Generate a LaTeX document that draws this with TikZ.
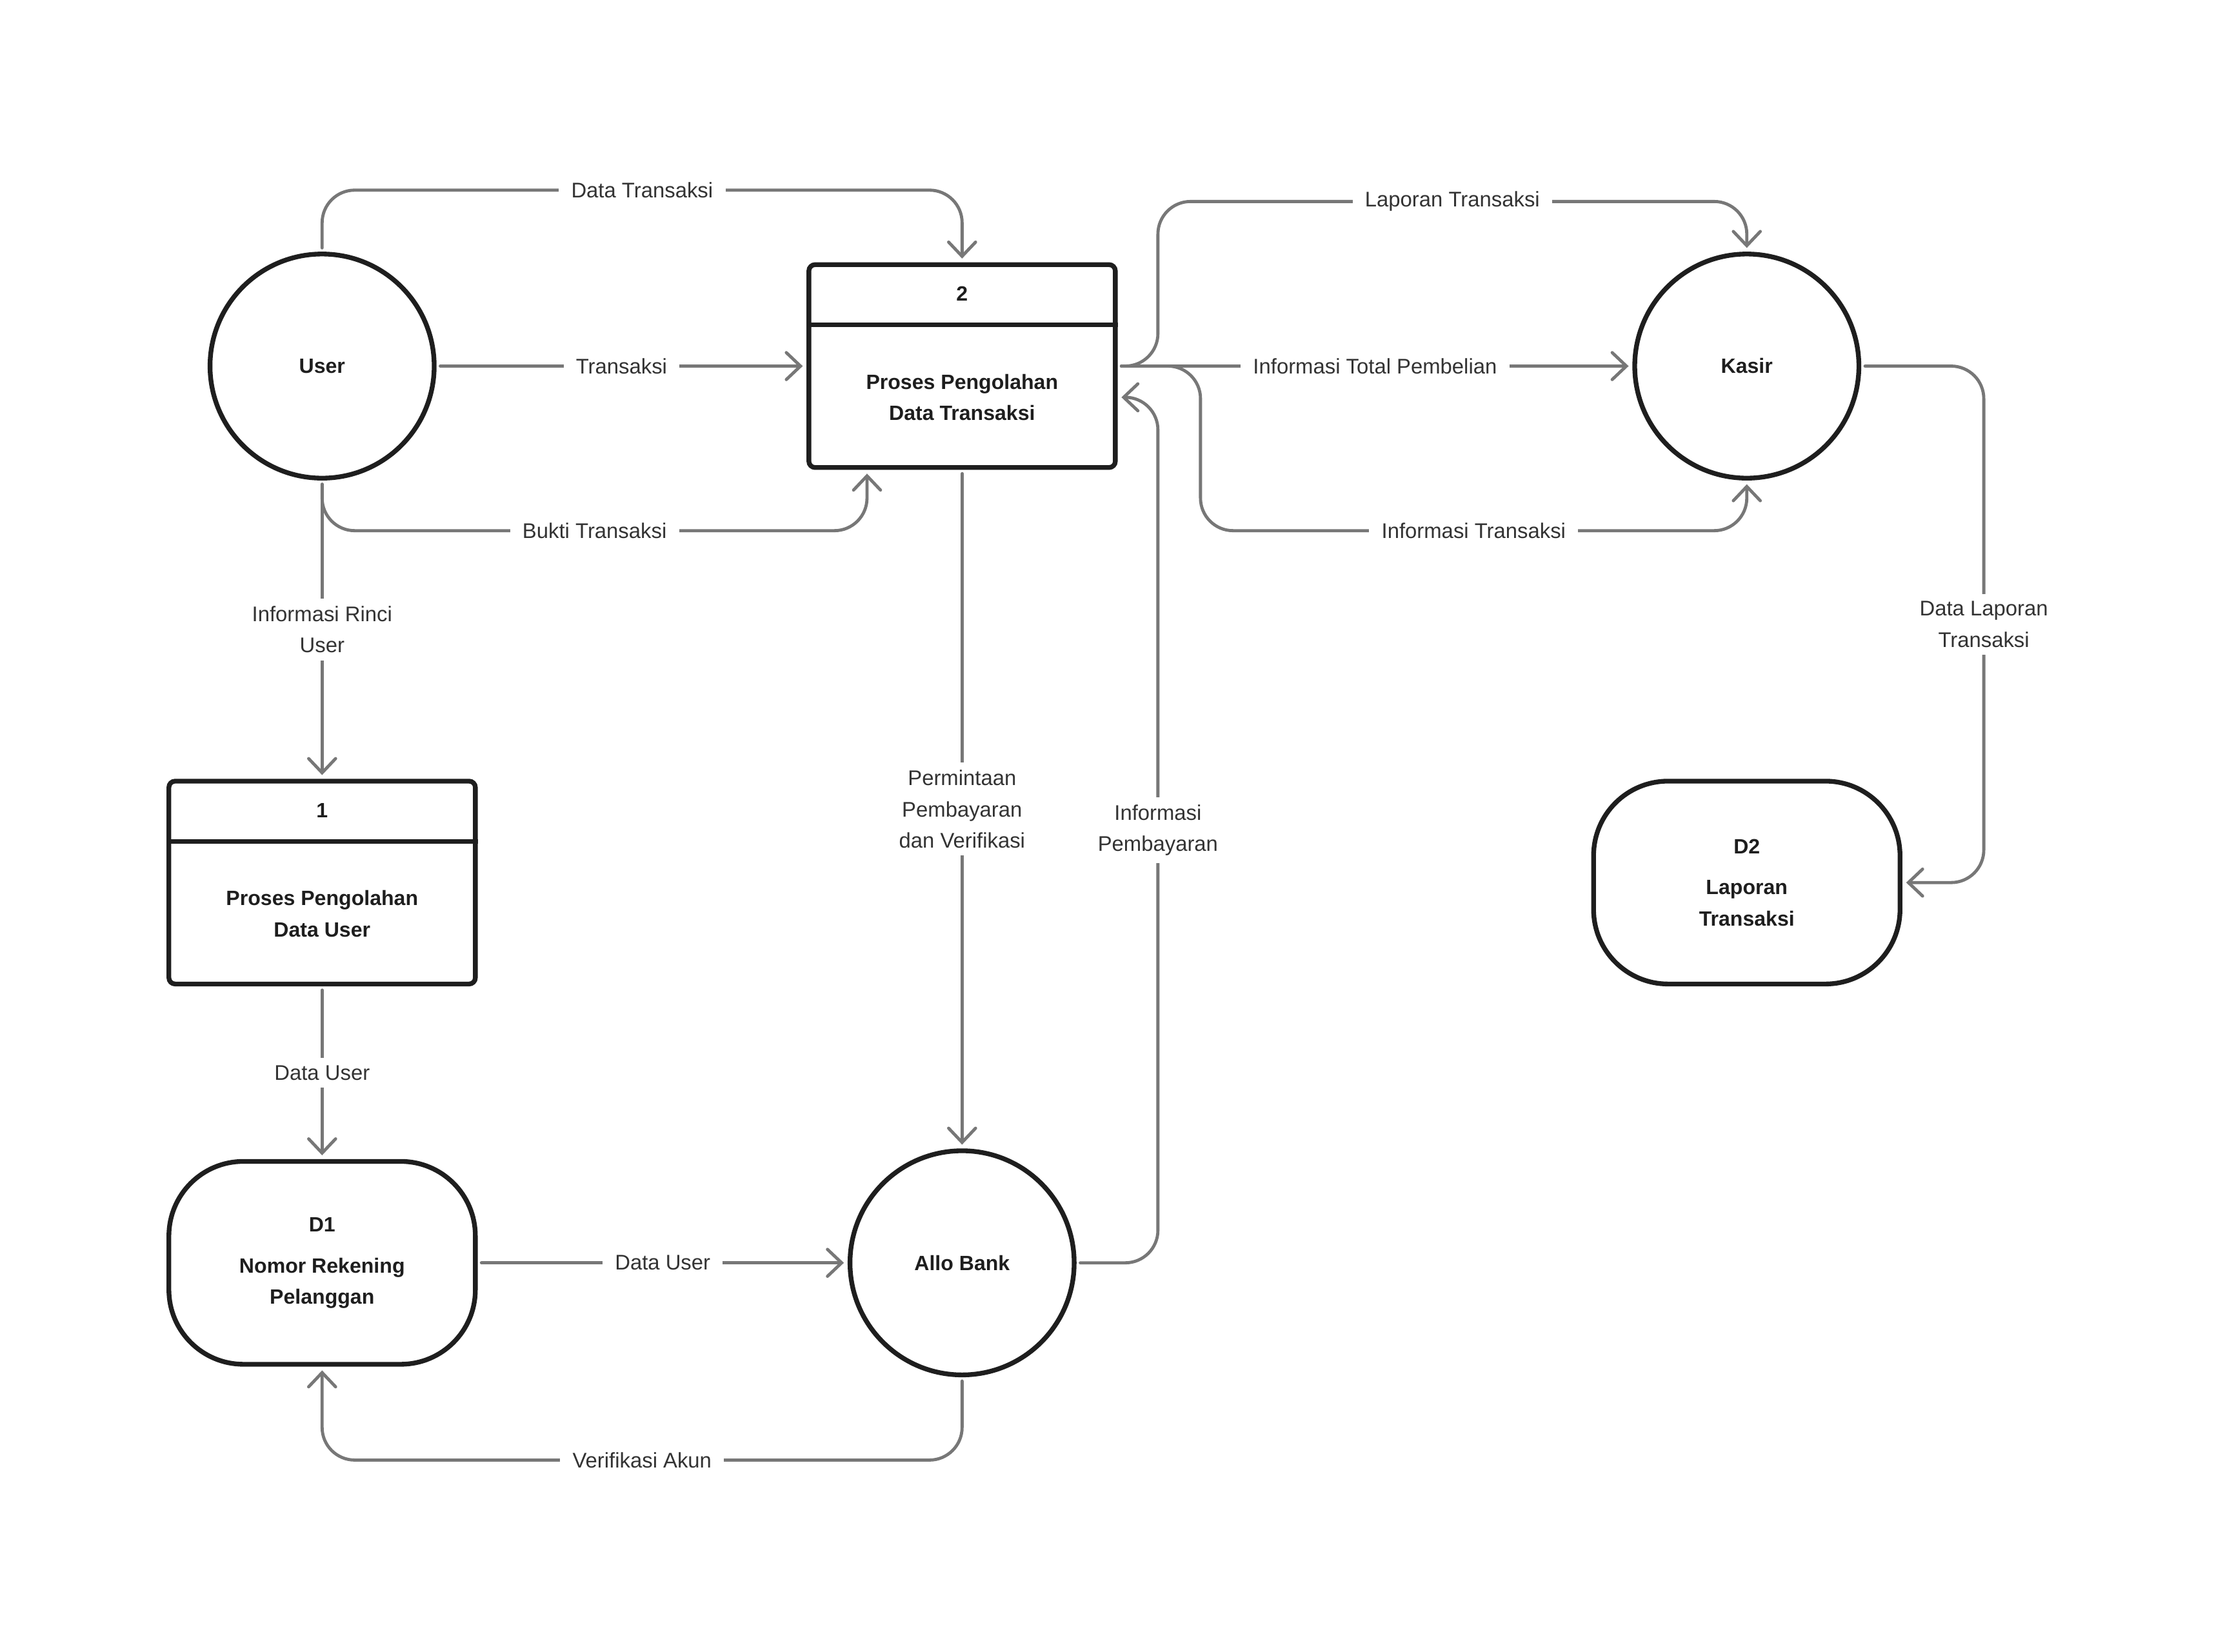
\documentclass[tikz,border=0pt]{standalone}
\usepackage{fontspec}
\setmainfont{Liberation Sans}
\usetikzlibrary{arrows.meta}
\definecolor{edgec}{HTML}{777777}
\definecolor{nodec}{HTML}{1E1E1E}
\definecolor{lblc}{HTML}{333333}
\begin{document}
\begin{tikzpicture}[x=0.02cm,y=-0.02cm,
  nfont/.style={font=\bfseries\fontsize{8.3}{12.5}\selectfont},
  ent/.style={circle,draw=nodec,line width=1.9pt,minimum size=3.16cm,inner sep=0pt,nfont,text=nodec,align=center},
  proc/.style={rectangle,draw=nodec,line width=1.9pt,rounded corners=2.5pt,minimum width=4.32cm,minimum height=2.86cm,inner sep=0pt},
  store/.style={rectangle,draw=nodec,line width=1.9pt,rounded corners=1.05cm,minimum width=4.32cm,minimum height=2.86cm,inner sep=0pt,align=center,nfont,text=nodec},
  ptxt/.style={nfont,text=nodec,align=center,inner sep=0pt},
  divider/.style={draw=nodec,line width=1.9pt},
  conn/.style={draw=edgec,line width=1.25pt,rounded corners=0.46cm,line cap=round,shorten <=1.5pt,shorten >=1.5pt,
    -{Straight Barb[length=0.2cm,width=0.38cm,line cap=round]}},
  lbl/.style={fill=white,text=lblc,font=\fontsize{8.5}{12.5}\selectfont,inner xsep=5pt,inner ysep=3pt,align=center,sharp corners}
]
\useasboundingbox (0,0) rectangle (1568,1164);
\fill[white] (0,0) rectangle (1568,1164);

% nodes
\node[ent] (user) at (227,258) {User};
\node[ent] (kasir) at (1231,258) {Kasir};
\node[ent] (bank) at (678,890) {Allo Bank};

\node[proc] (p2) at (678,258) {};
\draw[divider] (p2.west |- 0,229) -- (p2.east |- 0,229);
\node[ptxt] (p2h) at (678,207) {2};
\node[ptxt] (p2b) at (678,280) {Proses Pengolahan\\Data Transaksi};

\node[proc] (p1) at (227,622) {};
\draw[divider] (p1.west |- 0,593) -- (p1.east |- 0,593);
\node[ptxt] (p1h) at (227,571) {1};
\node[ptxt] (p1b) at (227,644) {Proses Pengolahan\\Data User};

\node[store] (d1) at (227,890) {D1\\[4pt]Nomor Rekening\\Pelanggan};
\node[store] (d2) at (1231,622) {D2\\[4pt]Laporan\\Transaksi};

% connectors
\draw[conn] (user.north) -- (user.north |- 0,134) -- node[lbl]{Data Transaksi} (p2.north |- 0,134) -- (p2.north);
\draw[conn] (user.east) -- node[lbl]{Transaksi} (p2.west);
\draw[conn] (user.south) -- (user.south |- 0,374) -- node[lbl]{Bukti Transaksi} (611,374) -- (p2.south -| 611,0);
\draw[conn] (user.south) -- node[lbl]{Informasi Rinci\\User} (p1.north);
\draw[conn] (p1.south) -- node[lbl]{Data User} (d1.north);
\draw[conn] (d1.east) -- node[lbl]{Data User} (bank.west);
\draw[conn] (bank.south) -- (bank.south |- 0,1029) -- node[lbl]{Verifikasi Akun} (d1.south |- 0,1029) -- (d1.south);
\draw[conn] (p2.south) -- node[lbl]{Permintaan\\Pembayaran\\dan Verifikasi} (bank.north);
\draw[conn] (bank.east) -- (816,890) -- node[lbl]{Informasi\\Pembayaran} (816,280) -- (p2.east |- 0,280);
\draw[conn] (p2.east) -- (816,258) -- (816,142) -- node[lbl]{Laporan Transaksi} (kasir.north |- 0,142) -- (kasir.north);
\draw[conn] (p2.east) -- node[lbl]{Informasi Total Pembelian} (kasir.west);
\draw[conn] (p2.east) -- (846,258) -- (846,374) -- node[lbl]{Informasi Transaksi} (kasir.south |- 0,374) -- (kasir.south);
\draw[conn] (kasir.east) -- (1398,258) -- node[lbl]{Data Laporan\\Transaksi} (1398,622) -- (d2.east |- 0,622);
\end{tikzpicture}
\end{document}
